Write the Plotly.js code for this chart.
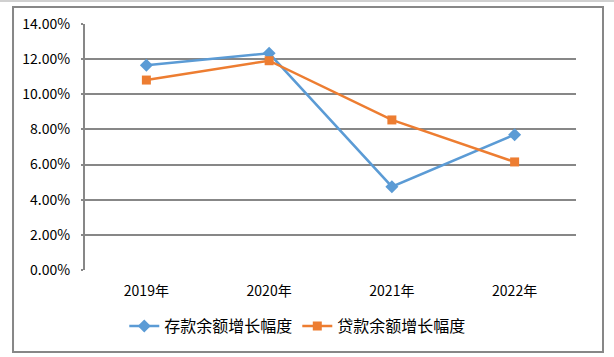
<!DOCTYPE html>
<html>
<head>
<meta charset="utf-8">
<script src="https://cdn.plot.ly/plotly-3.0.1.min.js"></script>
<style>html,body{margin:0;padding:0;background:#fff;}</style>
</head>
<body>
<div id="chart" style="width:614px;height:357px;"></div>
<script>
var categories = ['2019年', '2020年', '2021年', '2022年'];
var depositGrowth = [11.65, 12.33, 4.74, 7.70];
var loanGrowth = [10.81, 11.91, 8.54, 6.15];
var seriesNames = ['存款余额增长幅度', '贷款余额增长幅度'];

var font = '"Noto Sans CJK SC", "DejaVu Sans", sans-serif';

var traces = [
  {
    x: categories, y: depositGrowth, name: seriesNames[0],
    type: 'scatter', mode: 'lines+markers',
    line: {color: '#5B9BD5', width: 2.5},
    marker: {symbol: 'diamond', size: 10, color: '#5B9BD5'}
  },
  {
    x: categories, y: loanGrowth, name: seriesNames[1],
    type: 'scatter', mode: 'lines+markers',
    line: {color: '#ED7D31', width: 2.5},
    marker: {symbol: 'square', size: 9, color: '#ED7D31'}
  }
];

var layout = {
  width: 614, height: 357,
  margin: {l: 85, r: 38, t: 24, b: 87},
  paper_bgcolor: '#fff', plot_bgcolor: '#fff',
  font: {family: font, size: 12, color: '#000'},
  showlegend: true,
  legend: {
    orientation: 'h', x: 0.08, xanchor: 'left', y: -0.228, yanchor: 'middle',
    font: {size: 16, color: '#000'}, itemwidth: 30, tracegroupgap: 0
  },
  xaxis: {
    type: 'category', range: [-0.5, 3.5], showgrid: false, zeroline: false,
    showline: false, ticks: '', ticklabelstandoff: 11,
    tickfont: {size: 14}
  },
  yaxis: {
    range: [0, 14], dtick: 2, tickformat: '.2f', ticksuffix: '%',
    showgrid: true, gridcolor: '#878787', gridwidth: 2,
    zeroline: false, showline: true, linecolor: '#878787', linewidth: 2,
    ticks: 'outside', ticklen: 2, tickcolor: '#878787', tickwidth: 2,
    ticklabelstandoff: 8, tickfont: {size: 14}
  },
  shapes: [
    {type: 'rect', xref: 'paper', yref: 'paper',
     x0: -0.1466, x1: 1.055, y0: -0.333, y1: 1.069,
     line: {color: '#878787', width: 2}, fillcolor: 'rgba(0,0,0,0)', layer: 'below'},
    {type: 'line', xref: 'paper', yref: 'paper',
     x0: -0.2, x1: 1.1, y0: 1.093, y1: 1.093,
     line: {color: '#d0d0d0', width: 2}}
  ]
};

Plotly.newPlot('chart', traces, layout, {displayModeBar: false, staticPlot: true});
</script>
</body>
</html>
